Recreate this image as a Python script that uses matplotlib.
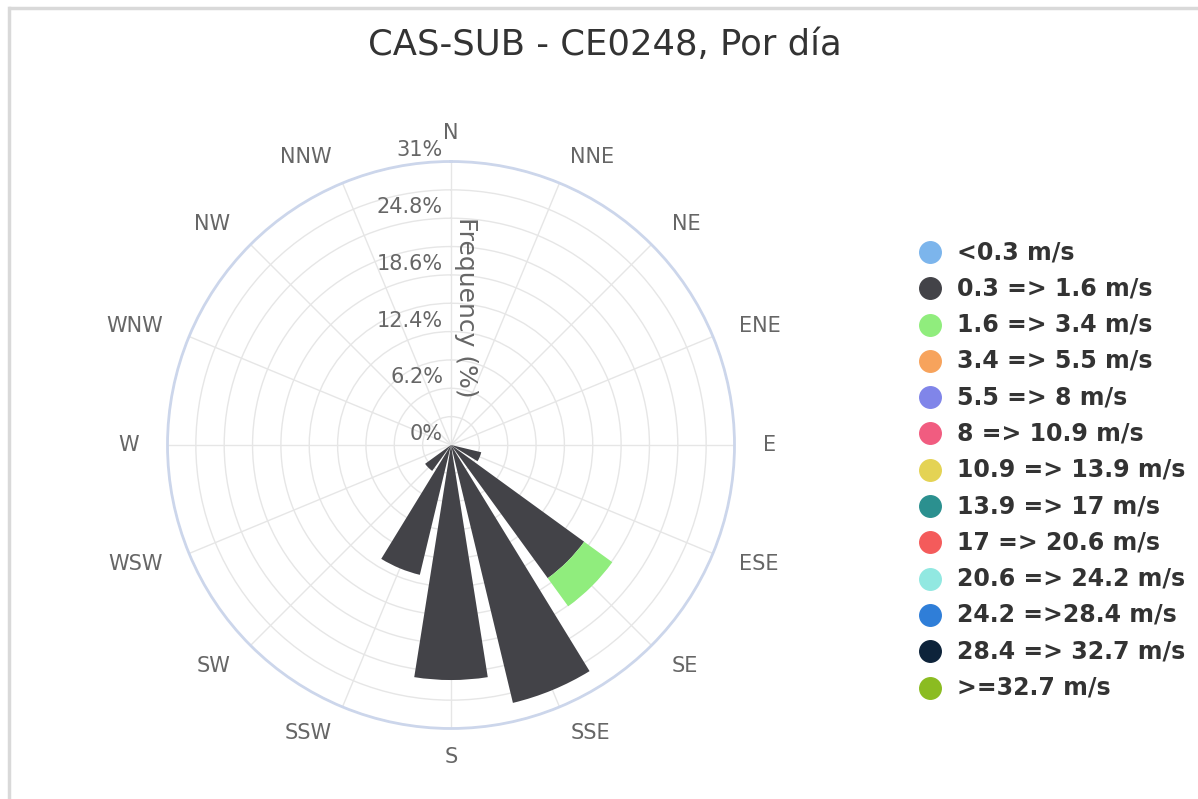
import numpy as np
import matplotlib
matplotlib.use("Agg")
import matplotlib.pyplot as plt
from matplotlib.lines import Line2D

# ---- data ----
directions = ["N", "NNE", "NE", "ENE", "E", "ESE", "SE", "SSE",
              "S", "SSW", "SW", "WSW", "W", "WNW", "NW", "NNW"]
speed_labels = ["<0.3 m/s", "0.3 => 1.6 m/s", "1.6 => 3.4 m/s", "3.4 => 5.5 m/s",
                "5.5 => 8 m/s", "8 => 10.9 m/s", "10.9 => 13.9 m/s", "13.9 => 17 m/s",
                "17 => 20.6 m/s", "20.6 => 24.2 m/s", "24.2 =>28.4 m/s",
                "28.4 => 32.7 m/s", ">=32.7 m/s"]
speed_colors = ["#7cb5ec", "#434348", "#90ed7d", "#f7a35c", "#8085e9", "#f15c80",
                "#e4d354", "#2b908f", "#f45b5b", "#91e8e1", "#2f7ed8", "#0d233a", "#8bbc21"]
freq_03_16 = [0, 0, 0, 0, 0, 3.4, 18.0, 29.0, 25.7, 14.6, 3.5, 0, 0, 0, 0, 0]
freq_16_34 = [0, 0, 0, 0, 0, 0, 3.8, 0, 0, 0, 0, 0, 0, 0, 0, 0]
series = {1: freq_03_16, 2: freq_16_34}
r_max = 31.0
r_ticks = [0, 6.2, 12.4, 18.6, 24.8, 31]
r_minor = [3.1, 9.3, 15.5, 21.7, 27.9]
title = "CAS-SUB - CE0248, Por día"

W, H = 1198, 799
fig = plt.figure(figsize=(W / 100, H / 100), dpi=100)

cx, cy, R = 451, 445, 283.5
ax = fig.add_axes([(cx - R) / W, 1 - (cy + R) / H, 2 * R / W, 2 * R / H], projection="polar")
ax.set_theta_zero_location("N")
ax.set_theta_direction(-1)
ax.set_ylim(0, r_max)

theta = np.deg2rad(np.arange(len(directions)) * 22.5)
width = np.deg2rad(22.5 * 0.8)
bottom = np.zeros(len(directions))
for idx, vals in series.items():
    vals = np.array(vals, dtype=float)
    ax.bar(theta, vals, width=width, bottom=bottom, color=speed_colors[idx],
           edgecolor="none", zorder=3)
    bottom += vals

# grids
ax.set_yticks(sorted(r_ticks + r_minor))
ax.set_yticklabels([])
ax.set_xticks(theta)
ax.set_xticklabels([])
ax.grid(True, color="#e6e6e6", linewidth=1.0, zorder=0)
ax.spines["polar"].set_color("#ccd6eb")
ax.spines["polar"].set_linewidth(2)

# direction labels
for t, lab in zip(theta, directions):
    s = np.sin(t)
    ha = "center" if abs(s) < 1e-6 else ("left" if s > 0 else "right")
    ax.text(t, r_max * 1.10, lab, ha=ha, va="center", fontsize=15,
            color="#666666", clip_on=False)

# radial labels
for rv in r_ticks:
    lab = ("%g" % rv) + "%"
    ax.annotate(lab, xy=(0, rv), xytext=(-8, 11), textcoords="offset pixels",
                ha="right", va="center", fontsize=15, color="#666666",
                annotation_clip=False)

# axis title
ax.annotate("Frequency (%)", xy=(0, r_max * 0.487), xytext=(15, 0),
            textcoords="offset pixels", rotation=-90, ha="center", va="center",
            fontsize=18, color="#666666")

# figure title
fig.text(605 / W, 1 - 45 / H, title, ha="center", va="center", fontsize=25.5, color="#333333")

# legend
x_m, y0, dy = 930, 252, 36.3
for i, (lab, col) in enumerate(zip(speed_labels, speed_colors)):
    yy = 1 - (y0 + i * dy) / H
    fig.add_artist(Line2D([x_m / W], [yy], marker="o", markersize=15.5, color=col,
                          linestyle="none", transform=fig.transFigure))
    fig.text(957 / W, yy, lab, ha="left", va="center", fontsize=17, fontweight="bold",
             color="#333333")

# border lines
fig.add_artist(Line2D([10 / W, 1.0], [1 - 8 / H, 1 - 8 / H], color="#d9d9d9", linewidth=2.5,
                      transform=fig.transFigure))
fig.add_artist(Line2D([9 / W, 9 / W], [0, 1 - 8 / H], color="#d9d9d9", linewidth=2.5,
                      transform=fig.transFigure))

fig.savefig("out.png", dpi=100, facecolor="white")
